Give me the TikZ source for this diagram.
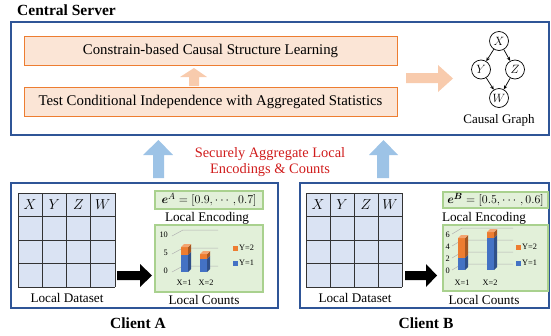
\documentclass[tikz,border=0pt]{standalone}
\usepackage{amsmath,bm}
\usepackage{fontspec}
\setmainfont{Liberation Serif}
\usetikzlibrary{arrows.meta}
\definecolor{srvblue}{HTML}{2F5597}
\definecolor{orfill}{HTML}{FBE5D6}
\definecolor{ordraw}{HTML}{ED7D31}
\definecolor{orarrow}{HTML}{F8CBAD}
\definecolor{bluearrow}{HTML}{9DC3E6}
\definecolor{gridfill}{HTML}{DAE3F3}
\definecolor{grfill}{HTML}{E2F0D9}
\definecolor{grdraw}{HTML}{A9D18E}
\definecolor{barorange}{HTML}{ED7D31}
\definecolor{barblue}{HTML}{4472C4}
\definecolor{redtxt}{HTML}{D01C1C}
\tikzset{
  panel/.style={draw=srvblue, line width=1.6pt},
  stepbox/.style={draw=ordraw, fill=orfill, line width=0.8pt, minimum width=373pt, minimum height=29pt, font=\fontsize{14.8}{17}\selectfont},
  greenbox/.style={draw=grdraw, fill=grfill, line width=1.2pt},
  lbl/.style={font=\fontsize{13.2}{15}\selectfont, inner sep=0pt},
  ttl/.style={font=\fontsize{15.5}{18}\selectfont\bfseries, inner sep=0pt},
  gnode/.style={circle, draw, line width=0.7pt, minimum size=19pt, inner sep=0pt, font=\fontsize{13}{15}\selectfont},
  gedge/.style={-{Stealth[length=4pt,width=3.5pt]}, line width=0.7pt},
  tick/.style={font=\fontsize{8.3}{9}\selectfont, inner sep=0pt},
  gline/.style={draw=black!30, line width=0.5pt},
}
\newcommand{\mybar}[5]{% x, top, mid, bottom, unused
  \fill[barorange] (#1,#2) rectangle (#1+7,#3);
  \fill[barblue] (#1,#3) rectangle (#1+7,#4);
  \fill[barorange!70!black] (#1+7,#2) -- (#1+10,#2-3) -- (#1+10,#3-3) -- (#1+7,#3) -- cycle;
  \fill[barblue!70!black] (#1+7,#3) -- (#1+10,#3-3) -- (#1+10,#4-3) -- (#1+7,#4) -- cycle;
  \fill[barorange!70!white] (#1,#2) -- (#1+3,#2-3) -- (#1+10,#2-3) -- (#1+7,#2) -- cycle;
}
\begin{document}
\begin{tikzpicture}[x=1pt,y=-1pt]
\useasboundingbox (0,0) rectangle (551,335);
% ---------- central server ----------
\node[ttl, anchor=west] (srvtitle) at (17,10) {Central Server};
\draw[panel] (11,22) rectangle (549,135);
\node[stepbox] (learn) at (210.5,50.5) {Constrain-based Causal Structure Learning};
\node[stepbox] (test) at (210.5,101.5) {Test Conditional Independence with Aggregated Statistics};
% small up arrow
\fill[orarrow] (189,86) -- (199,86) -- (199,77) -- (207,77) -- (194,68) -- (180,77) -- (189,77) -- cycle;
% right arrow
\fill[orarrow] (406,73) -- (438,73) -- (438,65) -- (453,78.5) -- (438,92) -- (438,83) -- (406,83) -- cycle;
% causal graph
\node[gnode] (X) at (499,41) {$X$};
\node[gnode] (Y) at (481,69.5) {$Y$};
\node[gnode] (Z) at (515,69.5) {$Z$};
\node[gnode] (W) at (499,98) {$W$};
\draw[gedge] (X) -- (Y);
\draw[gedge] (X) -- (Z);
\draw[gedge] (Y) -- (W);
\draw[gedge] (Z) -- (W);
\node[lbl, font=\fontsize{13}{15}\selectfont] (cg) at (499,120) {Causal Graph};
% ---------- aggregation arrows ----------
\fill[bluearrow] (153,178) -- (164,178) -- (164,155) -- (173,155) -- (158.5,140) -- (143,155) -- (153,155) -- cycle;
\fill[bluearrow] (377,178) -- (389,178) -- (389,155) -- (398,155) -- (383.5,140) -- (369,155) -- (377,155) -- cycle;
\node[lbl, text=redtxt, align=center, font=\fontsize{14.4}{16.5}\selectfont] (agg) at (270,162) {Securely Aggregate Local\\Encodings \& Counts};
% ---------- Client A ----------
\draw[panel] (11,183) rectangle (278,308);
\fill[gridfill] (18,193) rectangle (115,287);
\foreach \i in {0,1,2,3,4} {
  \draw[black!80, line width=0.8pt] (18+\i*24.25,193) -- (18+\i*24.25,287);
  \draw[black!80, line width=0.8pt] (18,193+\i*23.5) -- (115,193+\i*23.5);
}
\foreach \v [count=\i from 0] in {X,Y,Z,W}
  \node[font=\fontsize{13.5}{15}\selectfont, inner sep=0pt] (ha\v) at (30+\i*24.25,205) {$\v$};
\node[lbl] (dsA) at (67,298) {Local Dataset};
\fill[black] (117,271) -- (140,271) -- (140,264) -- (152,275.5) -- (140,287) -- (140,280) -- (117,280) -- cycle;
\draw[greenbox] (155,191) rectangle (263,209);
\node[font=\fontsize{12.8}{15}\selectfont, inner sep=0pt] (encA) at (209,200) {$\bm{e}^{A}=[0.9,\cdots,0.7]$};
\node[lbl] (encAl) at (207,218.5) {Local Encoding};
\draw[greenbox] (155,225) rectangle (263,292);
\node[lbl] (cntAl) at (204,299.5) {Local Counts};
% chart A
\foreach \L/\t in {230/10,248/5,266/0} {
  \draw[gline] (172,\L+6) -- (183,\L) -- (218,\L);
  \node[tick, anchor=east] at (168,\L+5) {\t};
}
\mybar{181}{247}{255}{272}{}
\mybar{200}{254}{259}{272}{}
\node[tick] (xa1) at (184,283) {X=1};
\node[tick] (xa2) at (206,283) {X=2};
\fill[barorange] (233,245.5) rectangle (238,250.5);
\node[tick, anchor=west] (ya2) at (239,248) {Y=2};
\fill[barblue] (233,260.5) rectangle (238,265.5);
\node[tick, anchor=west] (ya1) at (239,263) {Y=1};
\node[ttl] (cA) at (138,323) {Client A};
% ---------- Client B ----------
\draw[panel] (300,183) rectangle (549,308);
\fill[gridfill] (306,193) rectangle (402,287);
\foreach \i in {0,1,2,3,4} {
  \draw[black!80, line width=0.8pt] (306+\i*24,193) -- (306+\i*24,287);
  \draw[black!80, line width=0.8pt] (306,193+\i*23.5) -- (402,193+\i*23.5);
}
\foreach \v [count=\i from 0] in {X,Y,Z,W}
  \node[font=\fontsize{13.5}{15}\selectfont, inner sep=0pt] (hb\v) at (318+\i*24,205) {$\v$};
\node[lbl] (dsB) at (355,298) {Local Dataset};
\fill[black] (405,271) -- (426,271) -- (426,264) -- (437,275.5) -- (426,287) -- (426,280) -- (405,280) -- cycle;
\draw[greenbox] (443,192) rectangle (548,208);
\node[font=\fontsize{12.8}{15}\selectfont, inner sep=0pt] (encB) at (495.5,200) {$\bm{e}^{\bm{B}}=[0.5,\cdots,0.6]$};
\node[lbl] (encBl) at (484,218.5) {Local Encoding};
\draw[greenbox] (443,225) rectangle (548,291);
\node[lbl] (cntBl) at (484,299.5) {Local Counts};
% chart B
\foreach \L/\t in {228/6,240/4,252/2,264/0} {
  \draw[gline] (452,\L+6) -- (462,\L) -- (513,\L);
  \node[tick, anchor=east] at (450,\L+7) {\t};
}
\mybar{458}{238}{258}{270}{}
\mybar{487}{232}{238}{270}{}
\node[tick] (xb1) at (462,283) {X=1};
\node[tick] (xb2) at (490,283) {X=2};
\fill[barorange] (516,244.5) rectangle (521,249.5);
\node[tick, anchor=west] (yb2) at (522,247) {Y=2};
\fill[barblue] (516,260.5) rectangle (521,265.5);
\node[tick, anchor=west] (yb1) at (522,263) {Y=1};
\node[ttl] (cB) at (426,323) {Client B};
\end{tikzpicture}
\end{document}
